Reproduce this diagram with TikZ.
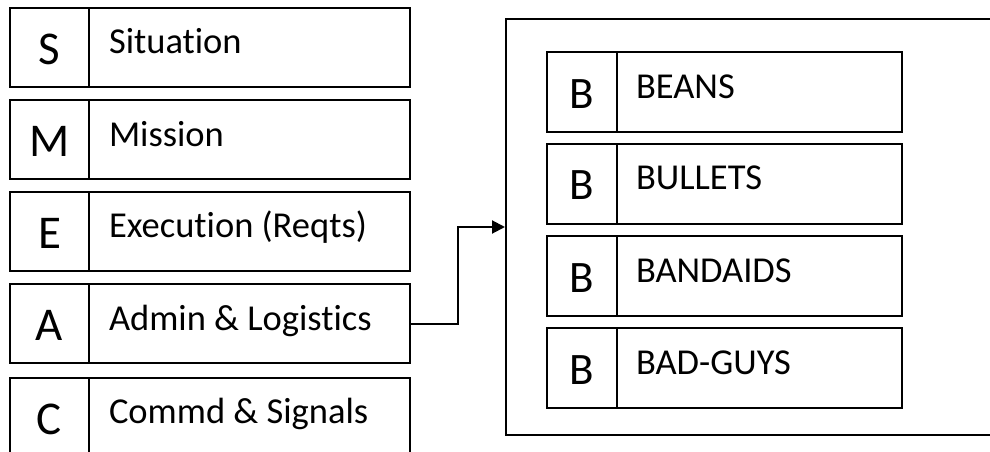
\documentclass[tikz,border=0pt]{standalone}
\usepackage{fontspec}
\setmainfont[Ligatures=NoCommon]{Carlito}
\usetikzlibrary{arrows.meta}
\begin{document}
\begin{tikzpicture}[x=1pt, y=-1pt, line width=2pt,
  cell/.style={draw, inner sep=0pt, minimum height=79pt},
  initial/.style={cell, minimum width=79pt, text height=34pt, text depth=0pt, font=\fontsize{47}{47}\selectfont},
  body/.style={cell, minimum width=321pt},
  subinitial/.style={cell, minimum height=80pt, minimum width=70pt, text height=32pt, text depth=0pt, font=\fontsize{45}{45}\selectfont},
  subbody/.style={cell, minimum height=80pt, minimum width=285pt},
  word/.style={anchor=base west, inner sep=0pt, font=\fontsize{36.5}{36.5}\selectfont}]
\useasboundingbox (0,0) rectangle (990,452);
\clip (0,0) rectangle (990,452);

% SMEAC column
\node[initial] (S-init) at (49.5,47.5) {S};
\node[body]    (S-body) at (249.5,47.5) {};
\node[word] (S-word) at ([shift={(20,47)}]S-body.north west) {Situation};

\node[initial] (M-init) at (49.5,139.5) {M};
\node[body]    (M-body) at (249.5,139.5) {};
\node[word] (M-word) at ([shift={(20,47)}]M-body.north west) {Mission};

\node[initial] (E-init) at (49.5,231) {E};
\node[body]    (E-body) at (249.5,231) {};
\node[word] (E-word) at ([shift={(20,47)}]E-body.north west) {Execution (Reqts)};

\node[initial] (A-init) at (49.5,323.5) {A};
\node[body]    (A-body) at (249.5,323.5) {};
\node[word] (A-word) at ([shift={(20,47)}]A-body.north west) {Admin \& Logistics};

\node[initial] (C-init) at (49.5,417) {C};
\node[body]    (C-body) at (249.5,417) {};
\node[word] (C-word) at ([shift={(20,47)}]C-body.north west) {Commd \& Signals};

% Logistics breakdown
\node[draw, minimum width=500pt, minimum height=416pt, anchor=west] (pack) at (505,227) {};

\node[subinitial] (B1-init) at (582,92) {B};
\node[subbody]    (B1-body) at (759.5,92) {};
\node[word] (B1-word) at ([shift={(19,47)}]B1-body.north west) {BEANS};

\node[subinitial] (B2-init) at (582,183.5) {B};
\node[subbody]    (B2-body) at (759.5,183.5) {};
\node[word] (B2-word) at ([shift={(19,47)}]B2-body.north west) {BULLETS};

\node[subinitial] (B3-init) at (582,276) {B};
\node[subbody]    (B3-body) at (759.5,276) {};
\node[word] (B3-word) at ([shift={(19,47)}]B3-body.north west) {BANDAIDS};

\node[subinitial] (B4-init) at (582,368) {B};
\node[subbody]    (B4-body) at (759.5,368) {};
\node[word] (B4-word) at ([shift={(19,47)}]B4-body.north west) {BAD-GUYS};

% Connector from A to the breakdown
\draw[-{Triangle[length=13pt,width=13pt]}] (A-body.east) -- ++(47,0) |- (pack.west);
\end{tikzpicture}
\end{document}
